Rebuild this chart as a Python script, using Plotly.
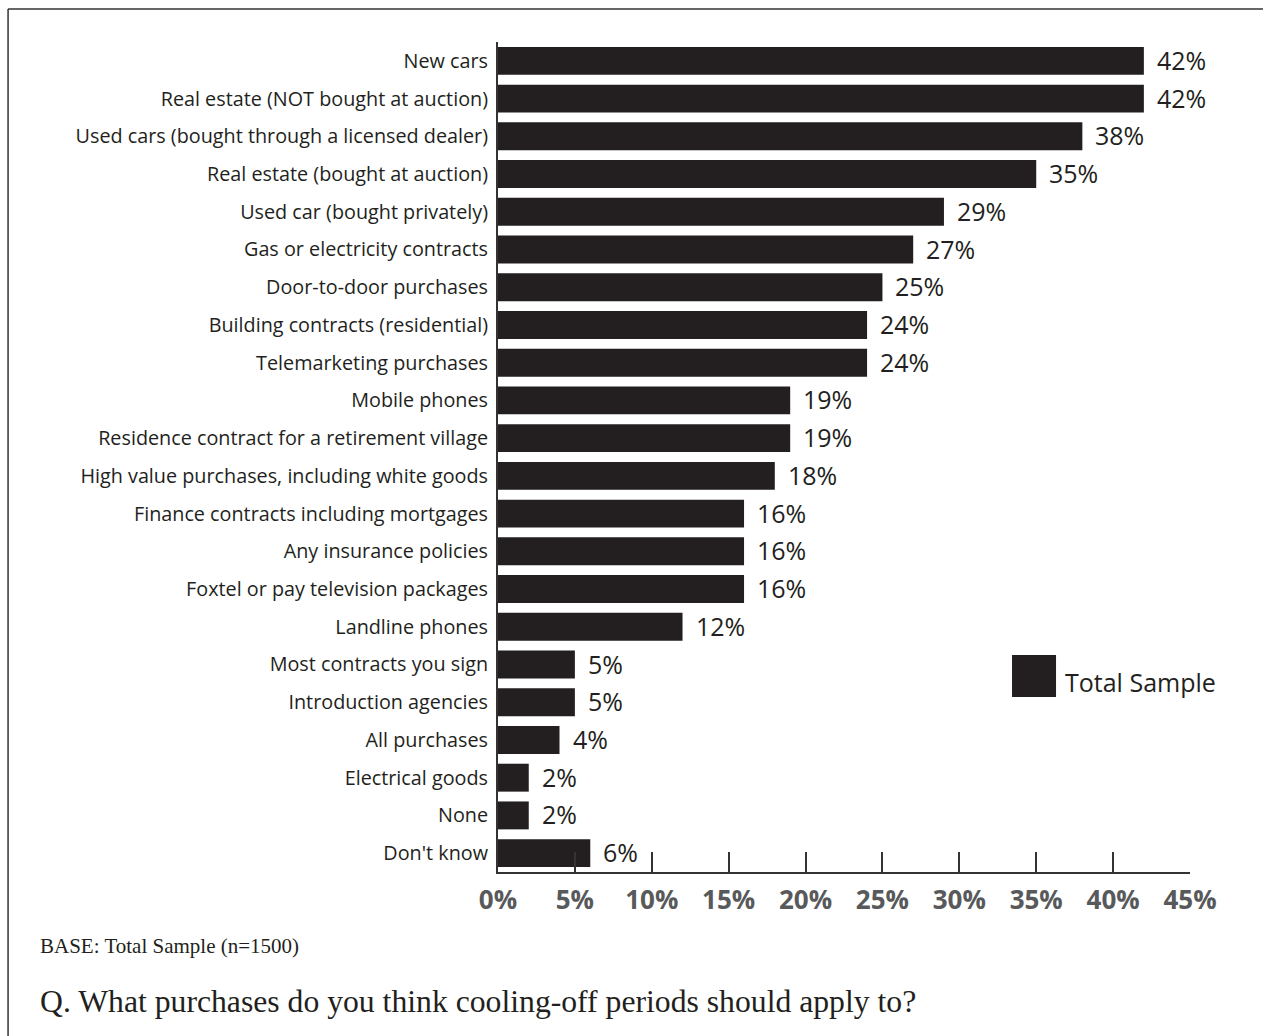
import plotly.graph_objects as go

# Survey responses: share of respondents naming each purchase type
categories = [
    "New cars",
    "Real estate (NOT bought at auction)",
    "Used cars (bought through a licensed dealer)",
    "Real estate (bought at auction)",
    "Used car (bought privately)",
    "Gas or electricity contracts",
    "Door-to-door purchases",
    "Building contracts (residential)",
    "Telemarketing purchases",
    "Mobile phones",
    "Residence contract for a retirement village",
    "High value purchases, including white goods",
    "Finance contracts including mortgages",
    "Any insurance policies",
    "Foxtel or pay television packages",
    "Landline phones",
    "Most contracts you sign",
    "Introduction agencies",
    "All purchases",
    "Electrical goods",
    "None",
    "Don't know",
]
values = [42, 42, 38, 35, 29, 27, 25, 24, 24, 19, 19, 18, 16, 16, 16, 12, 5, 5, 4, 2, 2, 6]

tick_vals = [0, 5, 10, 15, 20, 25, 30, 35, 40, 45]
tick_text = [f"{v}%" for v in tick_vals]

series_name = "Total Sample"
base_note = "BASE: Total Sample (n=1500)"
question = "Q. What purchases do you think cooling-off periods should apply to?"

BAR = "#231f20"
AXIS = "#333333"
SANS = "Open Sans, Noto Sans, sans-serif"
SERIF = "Liberation Serif, Times New Roman, serif"

fig = go.Figure()
fig.add_trace(go.Bar(
    x=values,
    y=categories,
    orientation="h",
    marker=dict(color=BAR, line=dict(width=0)),
    width=0.74,
    name=series_name,
    showlegend=False,
    hoverinfo="x+y",
))

# value labels to the right of each bar
annotations = [
    dict(x=v, y=c, xref="x", yref="y", text=f"{v}%", showarrow=False,
         xanchor="left", yanchor="middle", xshift=11, yshift=1,
         font=dict(family=SANS, size=25, color=BAR))
    for c, v in zip(categories, values)
]

# legend key drawn as a square plus label
annotations.append(dict(
    x=0.8165, y=0.2289, xref="paper", yref="paper", text=series_name,
    showarrow=False, xanchor="left", yanchor="middle",
    font=dict(family=SANS, size=25, color=BAR)))

# footnotes
annotations.append(dict(
    x=-0.665, y=-0.0892, xref="paper", yref="paper", text=base_note,
    showarrow=False, xanchor="left", yanchor="middle",
    font=dict(family=SERIF, size=21, color=BAR)))
annotations.append(dict(
    x=-0.665, y=-0.1555, xref="paper", yref="paper", text=question,
    showarrow=False, xanchor="left", yanchor="middle",
    font=dict(family=SERIF, size=31.7, color=BAR)))

shapes = [
    # legend swatch
    dict(type="rect", xref="paper", yref="paper",
         x0=0.7428, x1=0.8064, y0=0.2108, y1=0.2614,
         fillcolor=BAR, line=dict(width=0)),
    # outer frame (top and left edges)
    dict(type="line", xref="paper", yref="paper",
         x0=-0.708, x1=1.2, y0=1.0398, y1=1.0398,
         line=dict(color=AXIS, width=1.5)),
    dict(type="line", xref="paper", yref="paper",
         x0=-0.708, x1=-0.708, y0=1.0398, y1=-0.3,
         line=dict(color=AXIS, width=1.5)),
]

fig.update_layout(
    width=1263,
    height=1036,
    margin=dict(l=498, r=73, t=42, b=164, pad=0),
    paper_bgcolor="white",
    plot_bgcolor="white",
    bargap=0.26,
    annotations=annotations,
    shapes=shapes,
    showlegend=False,
    xaxis=dict(
        range=[0, 45],
        tickvals=tick_vals,
        ticktext=tick_text,
        showgrid=False,
        zeroline=False,
        showline=True,
        linecolor=AXIS,
        linewidth=2,
        ticks="inside",
        ticklen=20,
        tickwidth=1.5,
        tickcolor=AXIS,
        ticklabelstandoff=4,
        tickfont=dict(family=SANS, size=26, color="#58595b", weight="bold"),
        fixedrange=True,
    ),
    yaxis=dict(
        categoryorder="array",
        categoryarray=categories,
        range=[len(categories) - 0.5, -0.5],
        showgrid=False,
        zeroline=False,
        showline=True,
        linecolor=AXIS,
        linewidth=2,
        ticks="",
        ticklabelstandoff=4,
        tickfont=dict(family=SANS, size=19.8, color=BAR),
        fixedrange=True,
    ),
)

fig.write_html("out.html")
